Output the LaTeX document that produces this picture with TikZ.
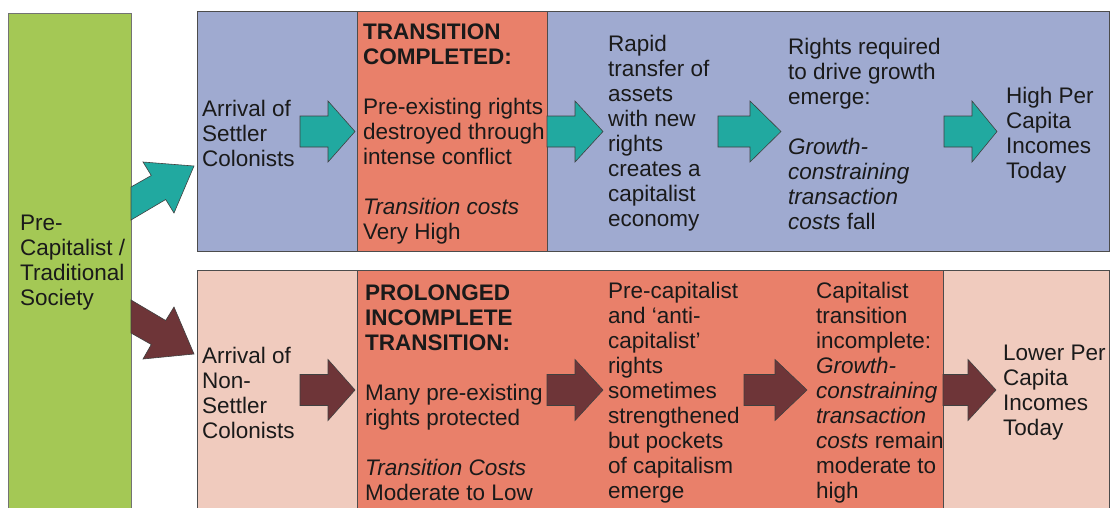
\documentclass[tikz,border=0pt]{standalone}
\usepackage{fontspec}
\setmainfont{Liberation Sans}
\definecolor{boxgreen}{HTML}{A4C855}
\definecolor{boxblue}{HTML}{9FAAD0}
\definecolor{boxsalmon}{HTML}{E9806A}
\definecolor{boxpink}{HTML}{F0CBBE}
\definecolor{arrowteal}{HTML}{21A9A0}
\definecolor{arrowbrown}{HTML}{6E3538}
\definecolor{txtcol}{HTML}{1A1A1A}
\newcommand\blockarr[5]{%
  \draw[#5] (#1,#4-15.5) -- (#2,#4-15.5) -- (#2,#4-30.5) -- (#3,#4)
    -- (#2,#4+30.5) -- (#2,#4+15.5) -- (#1,#4+15.5) -- cycle;}
\begin{document}
\begin{tikzpicture}[x=1pt,y=-1pt,
  boxline/.style={draw=black!70, line width=0.8pt},
  txt/.style={anchor=west, align=left, inner sep=0pt,
    font=\fontsize{22.5}{25}\selectfont, text=txtcol},
  tealarr/.style={fill=arrowteal, draw=black!75, line width=0.6pt, line join=miter},
  brownarr/.style={fill=arrowbrown, draw=black!75, line width=0.6pt, line join=miter}]
\useasboundingbox (0,0) rectangle (1113,507);
\clip (0,0) rectangle (1113,507);
% boxes
\fill[white] (0,0) rectangle (1113,507);
\draw[fill=boxgreen, draw=black!55, line width=0.7pt] (8,13) rectangle (131,520);
\draw[boxline, fill=boxblue] (197,11) rectangle (1109,251);
\draw[boxline, fill=boxsalmon] (357,11) rectangle (547,251);
\draw[boxline, fill=boxpink] (197,270) rectangle (1109,520);
\draw[boxline, fill=boxsalmon] (357,270) rectangle (943,520);
% diagonal arrows
\draw[tealarr] (131,187) -- (151.3,175.5) -- (143,162) -- (194,166) -- (174,213) -- (165.7,199.5) -- (131,220) -- cycle;
\draw[brownarr] (131,333) -- (151.3,344.5) -- (143,359) -- (194,354) -- (174,307) -- (165.7,320.5) -- (131,300) -- cycle;
% horizontal block arrows, top row
\blockarr{300}{328}{355}{131.5}{tealarr}
\blockarr{547}{575}{603}{131.5}{tealarr}
\blockarr{718}{750}{781}{131.5}{tealarr}
\blockarr{944}{972}{997}{131.5}{tealarr}
% bottom row
\blockarr{300}{328}{355}{390}{brownarr}
\blockarr{547}{575}{603}{390}{brownarr}
\blockarr{744}{775}{807}{390}{brownarr}
\blockarr{943}{968}{996}{390}{brownarr}
% texts
\node[txt] (pre) at (20,263) {Pre-\\Capitalist /\\Traditional\\Society};
\node[txt] (settler) at (202,133.5) {Arrival of\\Settler\\Colonists};
\node[txt] (complete) at (363,133.5) {\textbf{TRANSITION}\\\textbf{COMPLETED:}\\[25pt]Pre-existing rights\\destroyed through\\intense conflict\\[25pt]\textit{Transition costs}\\Very High};
\node[txt] (rapid) at (608,133) {Rapid\\transfer of\\assets\\with new\\rights\\creates a\\capitalist\\economy};
\node[txt] (rights) at (788,133.5) {Rights required\\to drive growth\\emerge:\\[25pt]\textit{Growth-}\\\textit{constraining}\\\textit{transaction}\\\textit{costs} fall};
\node[txt] (high) at (1006,135) {High Per\\Capita\\Incomes\\Today};
\node[txt] (nonsettler) at (202,393) {Arrival of\\Non-\\Settler\\Colonists};
\node[txt] (prolonged) at (365,392.5) {\textbf{PROLONGED}\\\textbf{INCOMPLETE}\\\textbf{TRANSITION:}\\[25pt]Many pre-existing\\rights protected\\[25pt]\textit{Transition Costs}\\Moderate to Low};
\node[txt] (precap) at (608,392.5) {Pre-capitalist\\and ‘anti-\\capitalist’\\rights\\sometimes\\strengthened\\but pockets\\of capitalism\\emerge};
\node[txt] (incomplete) at (816,392.5) {Capitalist\\transition\\incomplete:\\\textit{Growth-}\\\textit{constraining}\\\textit{transaction}\\\textit{costs} remain\\moderate to\\high};
\node[txt] (lower) at (1003,393) {Lower Per\\Capita\\Incomes\\Today};
\end{tikzpicture}
\end{document}
